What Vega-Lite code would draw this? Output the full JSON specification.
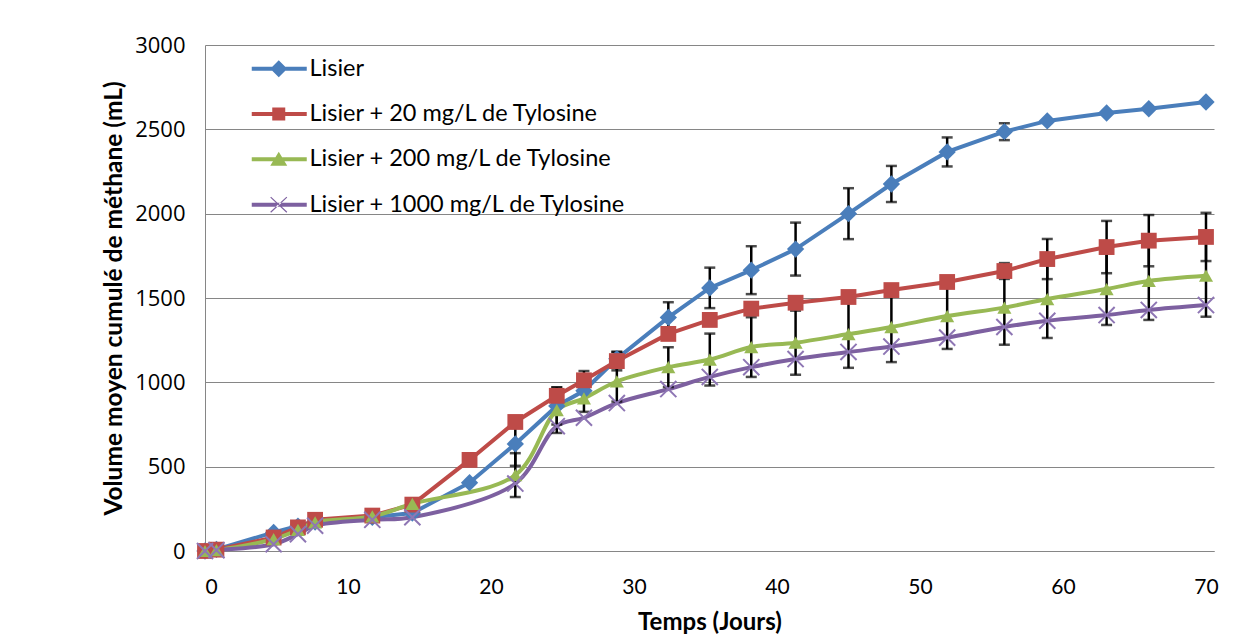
{
  "$schema": "https://vega.github.io/schema/vega-lite/v6.json",
  "width": 1009,
  "height": 506,
  "autosize": "none",
  "padding": {"left": 205, "top": 45, "right": 32, "bottom": 84},
  "background": "white",
  "config": {"view": {"stroke": null}, "font": "Lato"},
  "data": {"values": [
    {"day": 0, "v": 0, "err": 0, "s": "Lisier"},
    {"day": 0.8, "v": 10, "err": 0, "s": "Lisier"},
    {"day": 4.8, "v": 110, "err": 0, "s": "Lisier"},
    {"day": 6.5, "v": 148, "err": 0, "s": "Lisier"},
    {"day": 7.7, "v": 172, "err": 0, "s": "Lisier"},
    {"day": 11.7, "v": 200, "err": 0, "s": "Lisier"},
    {"day": 14.5, "v": 225, "err": 0, "s": "Lisier"},
    {"day": 18.5, "v": 405, "err": 0, "s": "Lisier"},
    {"day": 21.7, "v": 635, "err": 130, "s": "Lisier"},
    {"day": 24.6, "v": 860, "err": 110, "s": "Lisier"},
    {"day": 26.5, "v": 950, "err": 0, "s": "Lisier"},
    {"day": 28.8, "v": 1140, "err": 40, "s": "Lisier"},
    {"day": 32.4, "v": 1385, "err": 90, "s": "Lisier"},
    {"day": 35.3, "v": 1560, "err": 120, "s": "Lisier"},
    {"day": 38.2, "v": 1665, "err": 142, "s": "Lisier"},
    {"day": 41.3, "v": 1790, "err": 157, "s": "Lisier"},
    {"day": 45.0, "v": 2000, "err": 151, "s": "Lisier"},
    {"day": 48.0, "v": 2176, "err": 107, "s": "Lisier"},
    {"day": 51.9, "v": 2366, "err": 86, "s": "Lisier"},
    {"day": 55.9, "v": 2486, "err": 50, "s": "Lisier"},
    {"day": 58.9, "v": 2550, "err": 0, "s": "Lisier"},
    {"day": 63.05, "v": 2597, "err": 0, "s": "Lisier"},
    {"day": 66.0, "v": 2622, "err": 0, "s": "Lisier"},
    {"day": 70.0, "v": 2662, "err": 0, "s": "Lisier"},

    {"day": 0, "v": 0, "err": 0, "s": "Lisier + 20 mg/L de Tylosine"},
    {"day": 0.8, "v": 8, "err": 0, "s": "Lisier + 20 mg/L de Tylosine"},
    {"day": 4.8, "v": 80, "err": 0, "s": "Lisier + 20 mg/L de Tylosine"},
    {"day": 6.5, "v": 140, "err": 0, "s": "Lisier + 20 mg/L de Tylosine"},
    {"day": 7.7, "v": 185, "err": 0, "s": "Lisier + 20 mg/L de Tylosine"},
    {"day": 11.7, "v": 210, "err": 0, "s": "Lisier + 20 mg/L de Tylosine"},
    {"day": 14.5, "v": 275, "err": 0, "s": "Lisier + 20 mg/L de Tylosine"},
    {"day": 18.5, "v": 540, "err": 0, "s": "Lisier + 20 mg/L de Tylosine"},
    {"day": 21.7, "v": 765, "err": 0, "s": "Lisier + 20 mg/L de Tylosine"},
    {"day": 24.6, "v": 920, "err": 40, "s": "Lisier + 20 mg/L de Tylosine"},
    {"day": 26.5, "v": 1012, "err": 55, "s": "Lisier + 20 mg/L de Tylosine"},
    {"day": 28.8, "v": 1126, "err": 55, "s": "Lisier + 20 mg/L de Tylosine"},
    {"day": 32.4, "v": 1287, "err": 0, "s": "Lisier + 20 mg/L de Tylosine"},
    {"day": 35.3, "v": 1370, "err": 0, "s": "Lisier + 20 mg/L de Tylosine"},
    {"day": 38.2, "v": 1437, "err": 0, "s": "Lisier + 20 mg/L de Tylosine"},
    {"day": 41.3, "v": 1472, "err": 0, "s": "Lisier + 20 mg/L de Tylosine"},
    {"day": 45.0, "v": 1506, "err": 0, "s": "Lisier + 20 mg/L de Tylosine"},
    {"day": 48.0, "v": 1547, "err": 0, "s": "Lisier + 20 mg/L de Tylosine"},
    {"day": 51.9, "v": 1595, "err": 0, "s": "Lisier + 20 mg/L de Tylosine"},
    {"day": 55.9, "v": 1660, "err": 47, "s": "Lisier + 20 mg/L de Tylosine"},
    {"day": 58.9, "v": 1731, "err": 119, "s": "Lisier + 20 mg/L de Tylosine"},
    {"day": 63.05, "v": 1802, "err": 155, "s": "Lisier + 20 mg/L de Tylosine"},
    {"day": 66.0, "v": 1840, "err": 152, "s": "Lisier + 20 mg/L de Tylosine"},
    {"day": 70.0, "v": 1862, "err": 143, "s": "Lisier + 20 mg/L de Tylosine"},

    {"day": 0, "v": 0, "err": 0, "s": "Lisier + 200 mg/L de Tylosine"},
    {"day": 0.8, "v": 5, "err": 0, "s": "Lisier + 200 mg/L de Tylosine"},
    {"day": 4.8, "v": 70, "err": 0, "s": "Lisier + 200 mg/L de Tylosine"},
    {"day": 6.5, "v": 125, "err": 0, "s": "Lisier + 200 mg/L de Tylosine"},
    {"day": 7.7, "v": 170, "err": 0, "s": "Lisier + 200 mg/L de Tylosine"},
    {"day": 11.7, "v": 205, "err": 0, "s": "Lisier + 200 mg/L de Tylosine"},
    {"day": 14.5, "v": 280, "err": 0, "s": "Lisier + 200 mg/L de Tylosine"},
    {"day": 21.7, "v": 450, "err": 130, "s": "Lisier + 200 mg/L de Tylosine"},
    {"day": 24.6, "v": 835, "err": 135, "s": "Lisier + 200 mg/L de Tylosine"},
    {"day": 26.5, "v": 905, "err": 80, "s": "Lisier + 200 mg/L de Tylosine"},
    {"day": 28.8, "v": 1005, "err": 119, "s": "Lisier + 200 mg/L de Tylosine"},
    {"day": 32.4, "v": 1090, "err": 118, "s": "Lisier + 200 mg/L de Tylosine"},
    {"day": 35.3, "v": 1135, "err": 154, "s": "Lisier + 200 mg/L de Tylosine"},
    {"day": 38.2, "v": 1209, "err": 177, "s": "Lisier + 200 mg/L de Tylosine"},
    {"day": 41.3, "v": 1235, "err": 190, "s": "Lisier + 200 mg/L de Tylosine"},
    {"day": 45.0, "v": 1286, "err": 200, "s": "Lisier + 200 mg/L de Tylosine"},
    {"day": 48.0, "v": 1328, "err": 208, "s": "Lisier + 200 mg/L de Tylosine"},
    {"day": 51.9, "v": 1393, "err": 195, "s": "Lisier + 200 mg/L de Tylosine"},
    {"day": 55.9, "v": 1443, "err": 220, "s": "Lisier + 200 mg/L de Tylosine"},
    {"day": 58.9, "v": 1494, "err": 231, "s": "Lisier + 200 mg/L de Tylosine"},
    {"day": 63.05, "v": 1553, "err": 213, "s": "Lisier + 200 mg/L de Tylosine"},
    {"day": 66.0, "v": 1601, "err": 231, "s": "Lisier + 200 mg/L de Tylosine"},
    {"day": 70.0, "v": 1632, "err": 243, "s": "Lisier + 200 mg/L de Tylosine"},

    {"day": 0, "v": 0, "err": 0, "s": "Lisier + 1000 mg/L de Tylosine"},
    {"day": 0.8, "v": 5, "err": 0, "s": "Lisier + 1000 mg/L de Tylosine"},
    {"day": 4.8, "v": 40, "err": 0, "s": "Lisier + 1000 mg/L de Tylosine"},
    {"day": 6.5, "v": 100, "err": 0, "s": "Lisier + 1000 mg/L de Tylosine"},
    {"day": 7.7, "v": 150, "err": 0, "s": "Lisier + 1000 mg/L de Tylosine"},
    {"day": 11.7, "v": 185, "err": 0, "s": "Lisier + 1000 mg/L de Tylosine"},
    {"day": 14.5, "v": 200, "err": 0, "s": "Lisier + 1000 mg/L de Tylosine"},
    {"day": 21.7, "v": 400, "err": 0, "s": "Lisier + 1000 mg/L de Tylosine"},
    {"day": 24.6, "v": 740, "err": 0, "s": "Lisier + 1000 mg/L de Tylosine"},
    {"day": 26.5, "v": 790, "err": 0, "s": "Lisier + 1000 mg/L de Tylosine"},
    {"day": 28.8, "v": 877, "err": 0, "s": "Lisier + 1000 mg/L de Tylosine"},
    {"day": 32.4, "v": 960, "err": 0, "s": "Lisier + 1000 mg/L de Tylosine"},
    {"day": 35.3, "v": 1032, "err": 0, "s": "Lisier + 1000 mg/L de Tylosine"},
    {"day": 38.2, "v": 1090, "err": 0, "s": "Lisier + 1000 mg/L de Tylosine"},
    {"day": 41.3, "v": 1138, "err": 0, "s": "Lisier + 1000 mg/L de Tylosine"},
    {"day": 45.0, "v": 1180, "err": 0, "s": "Lisier + 1000 mg/L de Tylosine"},
    {"day": 48.0, "v": 1212, "err": 0, "s": "Lisier + 1000 mg/L de Tylosine"},
    {"day": 51.9, "v": 1265, "err": 0, "s": "Lisier + 1000 mg/L de Tylosine"},
    {"day": 55.9, "v": 1328, "err": 0, "s": "Lisier + 1000 mg/L de Tylosine"},
    {"day": 58.9, "v": 1365, "err": 0, "s": "Lisier + 1000 mg/L de Tylosine"},
    {"day": 63.05, "v": 1399, "err": 0, "s": "Lisier + 1000 mg/L de Tylosine"},
    {"day": 66.0, "v": 1429, "err": 0, "s": "Lisier + 1000 mg/L de Tylosine"},
    {"day": 70.0, "v": 1458, "err": 0, "s": "Lisier + 1000 mg/L de Tylosine"}
  ]},
  "encoding": {
    "x": {"field": "day", "type": "quantitative",
      "scale": {"domain": [0, 70.56], "nice": false, "zero": false},
      "axis": {"title": "Temps (Jours)", "values": [0, 10, 20, 30, 40, 50, 60, 70], "format": "d",
        "grid": false, "ticks": false, "domainColor": "#868686", "domainWidth": 1,
        "labelFont": "Lato", "labelFontSize": 21, "labelColor": "#000", "labelPadding": 25,
        "titleFont": "Lato", "titleFontSize": 24, "titleFontWeight": "bold", "titleColor": "#000", "titlePadding": 13}},
    "y": {"field": "v", "type": "quantitative",
      "scale": {"domain": [0, 3000], "nice": false},
      "axis": {"title": "Volume moyen cumulé de méthane (mL)", "values": [0, 500, 1000, 1500, 2000, 2500, 3000], "format": "d",
        "grid": true, "gridColor": "#868686", "gridWidth": 1, "ticks": false, "domainColor": "#868686", "domainWidth": 1,
        "labelFont": "Open Sans", "labelFontSize": 22, "labelFontWeight": "normal", "labelColor": "#000", "labelPadding": 20,
        "titleFont": "Lato", "titleFontSize": 24.5, "titleFontWeight": "bold", "titleColor": "#000", "titlePadding": 8}}
  },
  "layer": [
    {
      "transform": [{"filter": "datum.s == 'Lisier' || datum.s == 'Lisier + 20 mg/L de Tylosine'"}],
      "mark": {"type": "line", "strokeWidth": 4, "interpolate": "linear"},
      "encoding": {
        "color": {"field": "s", "type": "nominal",
          "scale": {"domain": ["Lisier", "Lisier + 20 mg/L de Tylosine", "Lisier + 200 mg/L de Tylosine", "Lisier + 1000 mg/L de Tylosine"],
            "range": ["#4A7EBB", "#BE4B48", "#98B954", "#7D60A0"]},
          "legend": {"orient": "none", "legendX": 83, "legendY": 12, "title": null, "padding": 0,
            "symbolSize": 400, "labelFont": "Lato", "labelFontSize": 23.5, "labelColor": "#000", "labelOffset": -2,
            "rowPadding": 20.3, "labelLimit": 700,
            "encode": {"symbols": {"update": {
              "shape": {"signal": "datum.value == 'Lisier' ? 'M-4.8,-0.2H0.7V0.2H-4.8Z M-2.1,-0.85L-1.25,0L-2.1,0.85L-2.95,0Z' : datum.value == 'Lisier + 20 mg/L de Tylosine' ? 'M-4.8,-0.2H0.7V0.2H-4.8Z M-2.75,-0.65H-1.45V0.65H-2.75Z' : datum.value == 'Lisier + 200 mg/L de Tylosine' ? 'M-4.8,-0.2H0.7V0.2H-4.8Z M-2.1,-0.75L-1.25,0.65L-2.95,0.65Z' : 'M-4.8,-0.2H0.7V0.2H-4.8Z M-2.95,-0.72L-2.87,-0.8L-1.25,0.72L-1.33,0.8Z M-2.95,0.72L-2.87,0.8L-1.25,-0.72L-1.33,-0.8Z'"},
              "fill": {"scale": "color", "field": "value"},
              "fillOpacity": {"value": 1},
              "opacity": {"value": 1},
              "strokeWidth": {"value": 0},
              "size": {"value": 400}
            }}}}
        },
        "detail": {"field": "s"}
      }
    },
    {
      "transform": [{"filter": "datum.s == 'Lisier + 200 mg/L de Tylosine' || datum.s == 'Lisier + 1000 mg/L de Tylosine'"}],
      "mark": {"type": "line", "strokeWidth": 4, "interpolate": "catmull-rom"},
      "encoding": {
        "color": {"field": "s", "type": "nominal"}
      }
    },
    {
      "transform": [{"filter": "datum.err > 0"}],
      "mark": {"type": "errorbar", "color": "#000", "thickness": 2.5, "ticks": {"size": 11, "thickness": 2.5, "color": "#000"}},
      "encoding": {
        "y": {"field": "v", "type": "quantitative"},
        "yError": {"field": "err"},
        "detail": {"field": "s"}
      }
    },
    {
      "transform": [{"filter": "datum.s != 'Lisier + 1000 mg/L de Tylosine'"}],
      "mark": {"type": "point", "filled": true, "opacity": 1, "strokeWidth": 0},
      "encoding": {
        "color": {"field": "s", "type": "nominal"},
        "shape": {"field": "s", "type": "nominal", "legend": null,
          "scale": {"domain": ["Lisier", "Lisier + 20 mg/L de Tylosine", "Lisier + 200 mg/L de Tylosine"], "range": ["diamond", "square", "triangle-up"]}},
        "size": {"field": "s", "type": "nominal", "legend": null,
          "scale": {"domain": ["Lisier", "Lisier + 20 mg/L de Tylosine", "Lisier + 200 mg/L de Tylosine"], "range": [300, 200, 260]}}
      }
    },
    {
      "transform": [{"filter": "datum.s == 'Lisier + 1000 mg/L de Tylosine'"}],
      "mark": {"type": "point", "filled": false, "shape": "M-1,-1L1,1M-1,1L1,-1", "size": 260, "strokeWidth": 2, "color": "#8E76B4", "opacity": 1},
      "encoding": {}
    }
  ]
}
